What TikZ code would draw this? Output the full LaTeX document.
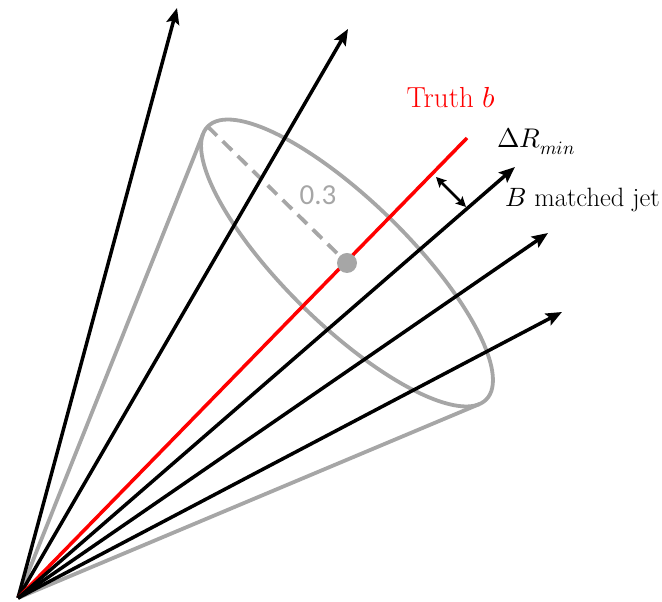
\documentclass[tikz,border=0pt]{standalone}
\usepackage{fontspec}
\usepackage{unicode-math}
\newfontfamily\labelsans{Carlito}
\usetikzlibrary{arrows.meta,calc}
\definecolor{conegrey}{RGB}{166,166,166}
\definecolor{truthred}{RGB}{255,0,0}
\begin{document}
\begin{tikzpicture}[x=1pt,y=1pt,
  jet/.style={line width=3.5pt,-{Stealth[length=16pt,width=13pt,inset=3pt]}},
  truth/.style={truthred,line width=3.5pt},
  cone/.style={conegrey,line width=3.8pt},
  radius line/.style={conegrey,line width=3.8pt,dash pattern=on 13pt off 8pt},
  deltar/.style={line width=2.5pt,{Stealth[length=10pt,width=10pt,inset=2pt]}-{Stealth[length=10pt,width=10pt,inset=2pt]}},
  lbl/.style={font=\fontsize{29}{34}\selectfont,inner sep=0pt},
]
\useasboundingbox (0,0) rectangle (662,602);
% key points
\coordinate (O) at (18,4);
\coordinate (C) at (347,339);
\coordinate (T1) at (203.2,468.3);
\coordinate (T2) at (479.4,197.9);
\coordinate (E) at ($(C)+(135.6:195)$);
\coordinate (t1) at (177,594);
\coordinate (t2) at (348,573);
\coordinate (tr) at (467,464);
\coordinate (t4) at (515,435);
\coordinate (t5) at (548,369);
\coordinate (t6) at (562,290);
\coordinate (d1) at (436,425);
\coordinate (d2) at (466,395);
% cone
\draw[cone] (O) -- (T1);
\draw[cone] (O) -- (T2);
\draw[cone,rotate around={-44.4:(C)}] (C) ellipse [x radius=195, y radius=62];
\draw[radius line] (E) -- (C);
% jets
\draw[jet] (O) -- (t1);
\draw[jet] (O) -- (t2);
\draw[truth] (O) -- (tr);
\draw[jet] (O) -- (t4);
\draw[jet] (O) -- (t5);
\draw[jet] (O) -- (t6);
\fill[conegrey] (C) circle [radius=10];
\draw[deltar] (d1) -- (d2);
% labels
\node[lbl,text=truthred,anchor=base] (truthlbl) at (451,494) {Truth $b$};
\node[lbl,font=\fontsize{27}{32}\selectfont,anchor=base west] (drlbl) at (497,454) {$\Delta R_{min}$};
\node[lbl,font=\fontsize{26.5}{32}\selectfont,anchor=base east] (jetlbl) at (660,395) {$B$ matched jet};
\node[inner sep=0pt,text=conegrey,font=\labelsans\fontsize{29}{34}\selectfont] (rlbl) at (318,407) {0.3};
\end{tikzpicture}
\end{document}
